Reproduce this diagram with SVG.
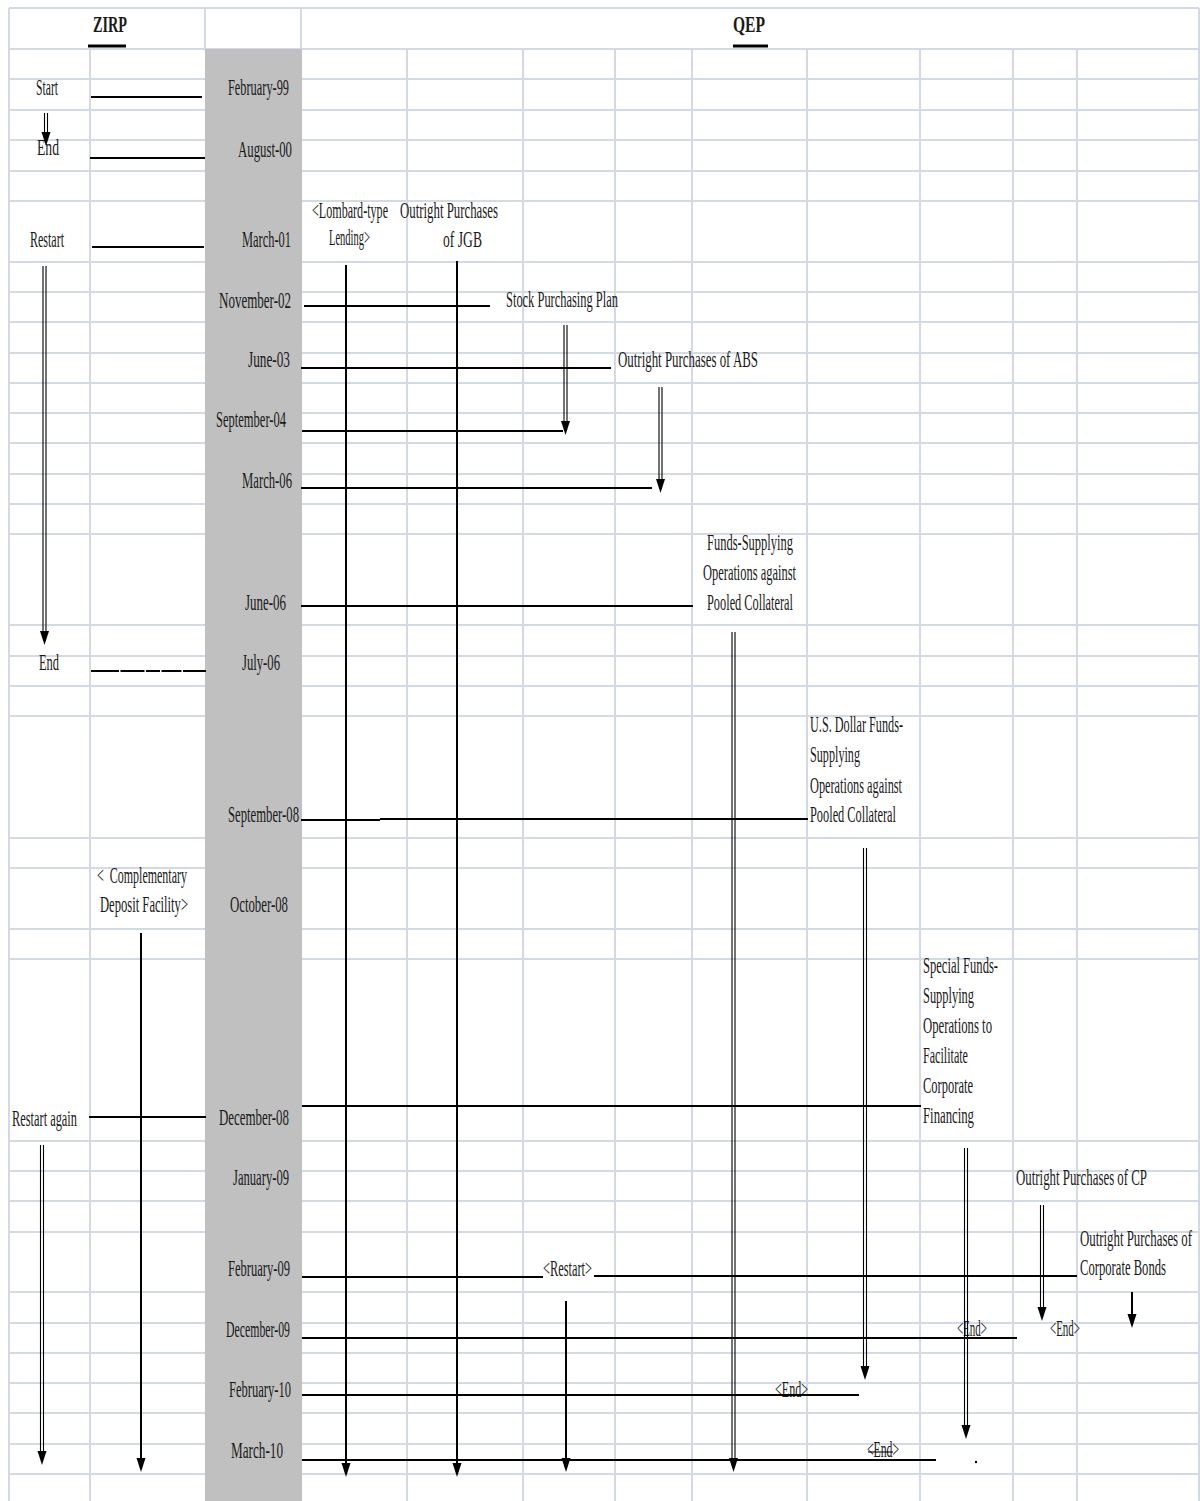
<svg xmlns="http://www.w3.org/2000/svg" xmlns:xlink="http://www.w3.org/1999/xlink" width="1200" height="1501" viewBox="0 0 1200 1501">
<style>
.grid{stroke:#d3dae6;stroke-width:2;fill:none}
.band{fill:#c0c0c0}
.t{font-family:"Liberation Serif","Times New Roman",serif;font-size:13px;fill:#1a1a1a}
.b{font-weight:bold}
.ln{stroke:#000;stroke-width:2;fill:none}
.dl{stroke:#000;stroke-width:1.1;fill:none}
.ul{stroke:#000;stroke-width:3}
.head{fill:#000}
</style>
<defs>
<path id="ah" class="head" d="M-4.5,-14 L4.5,-14 L0,0 Z"/>
</defs>
<rect width="1200" height="1501" fill="#ffffff"/>
<g id="grid">
<path class="grid" d="M9 8H1199M9 49H1199M9 79H1199M9 110H1199M9 140H1199M9 171H1199M9 201H1199M9 262H1199M9 292H1199M9 322H1199M9 353H1199M9 383H1199M9 413H1199M9 443H1199M9 474H1199M9 504H1199M9 534H1199M9 625H1199M9 656H1199M9 686H1199M9 716H1199M9 838H1199M9 868H1199M9 929H1199M9 959H1199M9 1141H1199M9 1171H1199M9 1201H1199M9 1232H1199M9 1292H1199M9 1323H1199M9 1353H1199M9 1383H1199M9 1413H1199M9 1444H1199M9 1474H1199"/>
<path class="grid" d="M9 8V1501M205 8V49M301 8V49M1199 8V1501M90 49V1501M407 49V1501M523 49V1501M615 49V1501M692 49V1501M807 49V1501M920 49V1501M1013 49V1501M1077 49V1501"/>
<rect class="band" x="205" y="49" width="97" height="1452"/>
</g>
<g id="header-zirp"><text class="t b" transform="translate(93 32) scale(1 1.8)" textLength="34" lengthAdjust="spacingAndGlyphs">ZIRP</text><line class="ul" x1="88" y1="46" x2="126" y2="46"/></g>
<g id="header-qep"><text class="t b" transform="translate(733 32) scale(1 1.8)" textLength="32" lengthAdjust="spacingAndGlyphs">QEP</text><line class="ul" x1="733" y1="46" x2="768" y2="46"/></g>
<g id="zirp-start"><text class="t" transform="translate(36 95) scale(1 1.8)" textLength="22" lengthAdjust="spacingAndGlyphs">Start</text></g>
<g id="zirp-end1"><text class="t" transform="translate(37 155) scale(1 1.8)" textLength="22" lengthAdjust="spacingAndGlyphs">End</text></g>
<g id="zirp-restart"><text class="t" transform="translate(30 247) scale(1 1.8)" textLength="34" lengthAdjust="spacingAndGlyphs">Restart</text></g>
<g id="zirp-end2"><text class="t" transform="translate(39 670) scale(1 1.8)" textLength="20" lengthAdjust="spacingAndGlyphs">End</text></g>
<g id="zirp-restart-again"><text class="t" transform="translate(12 1126) scale(1 1.8)" textLength="65" lengthAdjust="spacingAndGlyphs">Restart again</text></g>
<g id="complementary"><text class="t" transform="translate(97 883) scale(1 1.8)" textLength="90" lengthAdjust="spacingAndGlyphs" xml:space="preserve">&lt;  Complementary</text><text class="t" transform="translate(100 912) scale(1 1.8)" textLength="88" lengthAdjust="spacingAndGlyphs">Deposit Facility&gt;</text></g>
<g id="dates">
<text class="t" transform="translate(228 95) scale(1 1.8)" textLength="61" lengthAdjust="spacingAndGlyphs">February-99</text>
<text class="t" transform="translate(238 157) scale(1 1.8)" textLength="54" lengthAdjust="spacingAndGlyphs">August-00</text>
<text class="t" transform="translate(242 247) scale(1 1.8)" textLength="49" lengthAdjust="spacingAndGlyphs">March-01</text>
<text class="t" transform="translate(219 308) scale(1 1.8)" textLength="72" lengthAdjust="spacingAndGlyphs">November-02</text>
<text class="t" transform="translate(248 367) scale(1 1.8)" textLength="42" lengthAdjust="spacingAndGlyphs">June-03</text>
<text class="t" transform="translate(216 427) scale(1 1.8)" textLength="70" lengthAdjust="spacingAndGlyphs">September-04</text>
<text class="t" transform="translate(242 488) scale(1 1.8)" textLength="50" lengthAdjust="spacingAndGlyphs">March-06</text>
<text class="t" transform="translate(245 610) scale(1 1.8)" textLength="41" lengthAdjust="spacingAndGlyphs">June-06</text>
<text class="t" transform="translate(242 670) scale(1 1.8)" textLength="38" lengthAdjust="spacingAndGlyphs">July-06</text>
<text class="t" transform="translate(228 822) scale(1 1.8)" textLength="71" lengthAdjust="spacingAndGlyphs">September-08</text>
<text class="t" transform="translate(230 912) scale(1 1.8)" textLength="58" lengthAdjust="spacingAndGlyphs">October-08</text>
<text class="t" transform="translate(219 1125) scale(1 1.8)" textLength="70" lengthAdjust="spacingAndGlyphs">December-08</text>
<text class="t" transform="translate(233 1185) scale(1 1.8)" textLength="56" lengthAdjust="spacingAndGlyphs">January-09</text>
<text class="t" transform="translate(228 1276) scale(1 1.8)" textLength="62" lengthAdjust="spacingAndGlyphs">February-09</text>
<text class="t" transform="translate(226 1337) scale(1 1.8)" textLength="64" lengthAdjust="spacingAndGlyphs">December-09</text>
<text class="t" transform="translate(229 1397) scale(1 1.8)" textLength="62" lengthAdjust="spacingAndGlyphs">February-10</text>
<text class="t" transform="translate(231 1458) scale(1 1.8)" textLength="52" lengthAdjust="spacingAndGlyphs">March-10</text>
</g>
<g id="lombard"><text class="t" transform="translate(312 218) scale(1 1.8)" textLength="76" lengthAdjust="spacingAndGlyphs">&lt;Lombard-type</text><text class="t" transform="translate(329 245) scale(1 1.8)" textLength="41" lengthAdjust="spacingAndGlyphs">Lending&gt;</text></g>
<g id="jgb"><text class="t" transform="translate(400 218) scale(1 1.8)" textLength="98" lengthAdjust="spacingAndGlyphs">Outright Purchases</text><text class="t" transform="translate(443 247) scale(1 1.8)" textLength="39" lengthAdjust="spacingAndGlyphs">of JGB</text></g>
<g id="stock"><text class="t" transform="translate(506 307) scale(1 1.8)" textLength="112" lengthAdjust="spacingAndGlyphs">Stock Purchasing Plan</text></g>
<g id="abs"><text class="t" transform="translate(618 367) scale(1 1.8)" textLength="140" lengthAdjust="spacingAndGlyphs">Outright Purchases of ABS</text></g>
<g id="funds-pooled"><text class="t" transform="translate(707 550) scale(1 1.8)" textLength="86" lengthAdjust="spacingAndGlyphs">Funds-Supplying</text><text class="t" transform="translate(703 580) scale(1 1.8)" textLength="93" lengthAdjust="spacingAndGlyphs">Operations against</text><text class="t" transform="translate(707 610) scale(1 1.8)" textLength="86" lengthAdjust="spacingAndGlyphs">Pooled Collateral</text></g>
<g id="usd-funds"><text class="t" transform="translate(810 732) scale(1 1.8)" textLength="93" lengthAdjust="spacingAndGlyphs">U.S. Dollar Funds-</text><text class="t" transform="translate(810 762) scale(1 1.8)" textLength="50" lengthAdjust="spacingAndGlyphs">Supplying</text><text class="t" transform="translate(810 793) scale(1 1.8)" textLength="92" lengthAdjust="spacingAndGlyphs">Operations against</text><text class="t" transform="translate(810 822) scale(1 1.8)" textLength="86" lengthAdjust="spacingAndGlyphs">Pooled Collateral</text></g>
<g id="special-funds"><text class="t" transform="translate(923 973) scale(1 1.8)" textLength="75" lengthAdjust="spacingAndGlyphs">Special Funds-</text><text class="t" transform="translate(923 1003) scale(1 1.8)" textLength="51" lengthAdjust="spacingAndGlyphs">Supplying</text><text class="t" transform="translate(923 1033) scale(1 1.8)" textLength="69" lengthAdjust="spacingAndGlyphs">Operations to</text><text class="t" transform="translate(923 1063) scale(1 1.8)" textLength="45" lengthAdjust="spacingAndGlyphs">Facilitate</text><text class="t" transform="translate(923 1093) scale(1 1.8)" textLength="50" lengthAdjust="spacingAndGlyphs">Corporate</text><text class="t" transform="translate(923 1123) scale(1 1.8)" textLength="51" lengthAdjust="spacingAndGlyphs">Financing</text></g>
<g id="cp"><text class="t" transform="translate(1016 1185) scale(1 1.8)" textLength="131" lengthAdjust="spacingAndGlyphs">Outright Purchases of CP</text></g>
<g id="corp-bonds"><text class="t" transform="translate(1080 1246) scale(1 1.8)" textLength="112" lengthAdjust="spacingAndGlyphs">Outright Purchases of</text><text class="t" transform="translate(1080 1275) scale(1 1.8)" textLength="86" lengthAdjust="spacingAndGlyphs">Corporate Bonds</text></g>
<g id="restart-stock"><text class="t" transform="translate(543 1276) scale(1 1.8)" textLength="49" lengthAdjust="spacingAndGlyphs">&lt;Restart&gt;</text></g>
<g id="end-usd"><text class="t" transform="translate(957 1336) scale(1 1.8)" textLength="30" lengthAdjust="spacingAndGlyphs">&lt;End&gt;</text></g>
<g id="end-cp"><text class="t" transform="translate(1050 1336) scale(1 1.8)" textLength="30" lengthAdjust="spacingAndGlyphs">&lt;End&gt;</text></g>
<g id="end-funds"><text class="t" transform="translate(775 1397) scale(1 1.8)" textLength="33" lengthAdjust="spacingAndGlyphs">&lt;End&gt;</text></g>
<g id="end-special"><text class="t" transform="translate(867 1457) scale(1 1.8)" textLength="32" lengthAdjust="spacingAndGlyphs">&lt;End&gt;</text><line class="dl" x1="868" y1="1452" x2="893" y2="1452"/></g>
<g id="connectors">
<path class="ln" d="M91 97H202M90 158H205M92 247H204"/>
<path class="ln" d="M91 671H206" stroke-dasharray="28 1.5 24 1.5 14 1.5 20 1.5"/>
<path class="ln" d="M89 1117H206"/>
<path class="dl" d="M44.5 113V134M47.5 113V134"/><use xlink:href="#ah" href="#ah" transform="translate(46 146)"/>
<path class="dl" d="M43 266V633M46 266V633"/><use xlink:href="#ah" href="#ah" transform="translate(44.5 645)"/>
<path class="dl" d="M40.5 1145V1453M43.5 1145V1453"/><use xlink:href="#ah" href="#ah" transform="translate(42 1465)"/>
<path class="ln" d="M141 933V1460"/><use xlink:href="#ah" href="#ah" transform="translate(141 1472)"/>
<path class="ln" d="M346 265V1465"/><use xlink:href="#ah" href="#ah" transform="translate(346 1477)"/>
<path class="ln" d="M457 261V1465"/><use xlink:href="#ah" href="#ah" transform="translate(457 1477)"/>
<path class="ln" d="M304 306H490"/>
<path class="dl" d="M564 325V423M567 325V423"/><use xlink:href="#ah" href="#ah" transform="translate(565.5 435)"/>
<path class="ln" d="M301 368H611"/>
<path class="dl" d="M659 387V481M662 387V481"/><use xlink:href="#ah" href="#ah" transform="translate(660.5 493)"/>
<path class="ln" d="M302 431H563"/>
<path class="ln" d="M301 488H652"/>
<path class="ln" d="M301 606H693"/>
<path class="dl" d="M732 632V1460M735 632V1460"/><use xlink:href="#ah" href="#ah" transform="translate(733.5 1472)"/>
<path class="ln" d="M301 820H380M380 819H808"/>
<path class="dl" d="M863.5 848V1368M866.5 848V1368"/><use xlink:href="#ah" href="#ah" transform="translate(865 1380)"/>
<path class="ln" d="M302 1106H921"/>
<path class="dl" d="M964.5 1148V1427M967.5 1148V1427"/><use xlink:href="#ah" href="#ah" transform="translate(966 1439)"/>
<path class="dl" d="M1040.5 1205V1309M1043.5 1205V1309"/><use xlink:href="#ah" href="#ah" transform="translate(1042 1321)"/>
<path class="ln" d="M1132 1292V1316"/><use xlink:href="#ah" href="#ah" transform="translate(1132 1328)"/>
<path class="ln" d="M302 1277H543M594 1276H1077"/>
<path class="ln" d="M566 1301V1460"/><use xlink:href="#ah" href="#ah" transform="translate(566 1472)"/>
<path class="ln" d="M302 1338H1017"/>
<path class="ln" d="M302 1395H859"/>
<path class="ln" d="M302 1460H936"/>
<circle cx="976" cy="1462" r="1.2" fill="#000"/>
</g>
</svg>
